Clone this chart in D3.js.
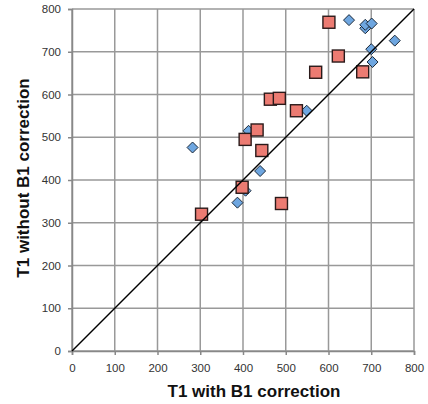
<!DOCTYPE html>
<html>
<head>
<meta charset="utf-8">
<script src="https://cdn.jsdelivr.net/npm/d3@7"></script>
<style>
  body { margin: 0; background: #fff; }
  text { font-family: "Liberation Sans", Arial, sans-serif; }
</style>
</head>
<body>
<div id="chart"></div>
<script>
// blue diamonds
var blueX = [282, 387, 406, 440, 413, 549, 648, 686, 686, 701, 700, 703, 755];
var blueY = [476, 347, 375, 421, 515, 562, 774, 755, 763, 766, 706, 676, 726];
// red squares
var redX = [303, 398, 405, 433, 444, 490, 464, 485, 525, 570, 601, 623, 680];
var redY = [320, 383, 495, 517, 469, 345, 589, 591, 562, 652, 769, 690, 653];
var ticks = [0, 100, 200, 300, 400, 500, 600, 700, 800];

var margin = {top: 9, right: 14, bottom: 53, left: 72},
    width = 428 - margin.left - margin.right,
    height = 404 - margin.top - margin.bottom;

var svg = d3.select("#chart").append("svg")
    .attr("width", 428)
    .attr("height", 404)
  .append("g")
    .attr("transform", "translate(" + margin.left + "," + margin.top + ")");

var x = d3.scaleLinear().domain([0, 800]).range([0, width]);
var y = d3.scaleLinear().domain([0, 800]).range([height, 0]);

// grid
svg.append("g").selectAll("line").data(ticks).enter().append("line")
    .attr("x1", function (d) { return x(d); })
    .attr("x2", function (d) { return x(d); })
    .attr("y1", 0).attr("y2", height)
    .style("stroke", "#999").style("stroke-width", 1.5);
svg.append("g").selectAll("line").data(ticks).enter().append("line")
    .attr("y1", function (d) { return y(d); })
    .attr("y2", function (d) { return y(d); })
    .attr("x1", 0).attr("x2", width)
    .style("stroke", "#999").style("stroke-width", 1.5);

// axes
var xAxis = svg.append("g")
    .attr("transform", "translate(0," + height + ")")
    .call(d3.axisBottom(x).tickValues(ticks).tickSize(4).tickPadding(9));
var yAxis = svg.append("g")
    .call(d3.axisLeft(y).tickValues(ticks).tickSize(4).tickPadding(7));
[xAxis, yAxis].forEach(function (a) {
    a.select(".domain").style("stroke", "#888").style("stroke-width", 1.5);
    a.selectAll(".tick line").style("stroke", "#888").style("stroke-width", 1.5);
    a.selectAll("text").style("font-size", "11.5px").style("fill", "#333");
});

// diamonds
var blue = blueX.map(function (d, i) { return {x: d, y: blueY[i]}; });
svg.append("g").selectAll("path").data(blue).enter().append("path")
    .attr("d", "M0,-5.5L5.5,0L0,5.5L-5.5,0Z")
    .attr("transform", function (d) { return "translate(" + x(d.x) + "," + y(d.y) + ")"; })
    .style("fill", "#6ea6e0").style("stroke", "#1c2a3a").style("stroke-width", 1);

// squares
var red = redX.map(function (d, i) { return {x: d, y: redY[i]}; });
svg.append("g").selectAll("rect").data(red).enter().append("rect")
    .attr("x", function (d) { return x(d.x) - 6; })
    .attr("y", function (d) { return y(d.y) - 6; })
    .attr("width", 12).attr("height", 12)
    .style("fill", "#ec7b72").style("stroke", "#2a1a1a").style("stroke-width", 1.4);

// identity line
svg.append("line")
    .attr("x1", x(0)).attr("y1", y(0))
    .attr("x2", x(800)).attr("y2", y(800))
    .style("stroke", "#000").style("stroke-width", 1.5);

// titles
svg.append("text")
    .attr("x", width / 2 + 11).attr("y", height + 46)
    .attr("text-anchor", "middle")
    .style("font-size", "17px").style("font-weight", "bold").style("fill", "#111")
    .text("T1 with B1 correction");
svg.append("text")
    .attr("transform", "translate(" + (-43) + "," + (height / 2 - 2) + ") rotate(-90)")
    .attr("text-anchor", "middle")
    .style("font-size", "17px").style("font-weight", "bold").style("fill", "#111")
    .text("T1 without B1 correction");
</script>
</body>
</html>
